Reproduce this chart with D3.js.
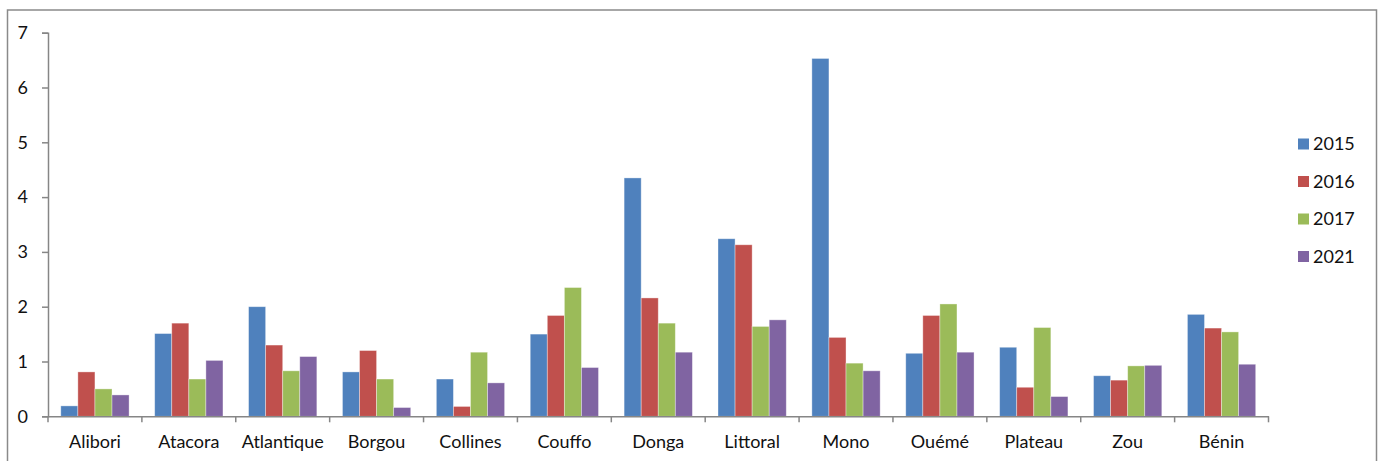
<!DOCTYPE html>
<html>
<head>
<meta charset="utf-8">
<script src="https://cdn.jsdelivr.net/npm/d3@7"></script>
<style>
  body { margin: 0; background: #fff; }
  text { font-family: Lato, "Open Sans", sans-serif; fill: #111; }
</style>
</head>
<body>
<div id="chart"></div>
<script>
var svgWidth = 1383;
var svgHeight = 461;

// data
var regions = ["Alibori", "Atacora", "Atlantique", "Borgou", "Collines", "Couffo",
  "Donga", "Littoral", "Mono", "Ouémé", "Plateau", "Zou", "Bénin"];
var years = ["2015", "2016", "2017", "2021"];
var values2015 = [0.19, 1.51, 2.00, 0.81, 0.68, 1.50, 4.35, 3.24, 6.53, 1.15, 1.26, 0.74, 1.86];
var values2016 = [0.81, 1.70, 1.30, 1.20, 0.18, 1.84, 2.16, 3.13, 1.44, 1.84, 0.53, 0.66, 1.61];
var values2017 = [0.50, 0.68, 0.83, 0.68, 1.17, 2.35, 1.70, 1.64, 0.97, 2.05, 1.62, 0.92, 1.54];
var values2021 = [0.39, 1.02, 1.09, 0.16, 0.61, 0.89, 1.17, 1.76, 0.83, 1.17, 0.36, 0.93, 0.95];
var yTicks = [0, 1, 2, 3, 4, 5, 6, 7];
var colors = ["#4F81BD", "#C0504D", "#9BBB59", "#8064A2"];

var seriesValues = [values2015, values2016, values2017, values2021];

var margin = { top: 33, left: 48, right: 115, bottom: 45 };
var plotLeft = 48, plotRight = 1268.5, plotTop = 32.7, plotBottom = 416.3;

var svg = d3.select("#chart")
  .append("svg")
  .attr("width", svgWidth)
  .attr("height", svgHeight);

// outer frame of the chart area
svg.append("rect")
  .attr("x", 7.5)
  .attr("y", 10)
  .attr("width", 1369)
  .attr("height", 470)
  .attr("fill", "none")
  .attr("stroke", "#8a8a8a")
  .attr("stroke-width", 1.5);

var x0 = d3.scaleBand()
  .domain(regions)
  .range([plotLeft, plotRight])
  .paddingInner(0)
  .paddingOuter(0);

var x1 = d3.scaleBand()
  .domain(years)
  .range([0, x0.bandwidth()])
  .paddingOuter(0.75)
  .paddingInner(0);

var y = d3.scaleLinear()
  .domain([0, 7])
  .range([plotBottom, plotTop]);

// bars
var groups = svg.selectAll("g.region")
  .data(regions)
  .enter()
  .append("g")
  .attr("class", "region")
  .attr("transform", d => `translate(${x0(d)},0)`);

groups.selectAll("rect")
  .data((d, i) => years.map((yr, j) => ({ year: yr, value: seriesValues[j][i], k: j })))
  .enter()
  .append("rect")
  .attr("x", d => x1(d.year))
  .attr("y", d => y(d.value))
  .attr("width", x1.bandwidth())
  .attr("height", d => plotBottom - y(d.value))
  .attr("fill", d => colors[d.k])
  .attr("stroke", "rgba(255,255,255,0.45)")
  .attr("stroke-width", 0.8);

// y axis
var leftAxis = d3.axisLeft(y)
  .tickValues(yTicks)
  .tickSize(6)
  .tickPadding(14)
  .tickFormat(d3.format("d"));

var yAxis = svg.append("g")
  .attr("transform", `translate(${plotLeft},0)`)
  .call(leftAxis);
yAxis.select(".domain").attr("stroke", "#868686").attr("stroke-width", 1.5);
yAxis.selectAll(".tick line").attr("stroke", "#868686").attr("stroke-width", 1.5);
yAxis.selectAll(".tick text").attr("font-size", "18px").attr("font-family", "Lato");

// x axis: ticks at category boundaries
var bottomAxis = d3.axisBottom(x0).tickSize(0).tickPadding(19);
var xAxis = svg.append("g")
  .attr("transform", `translate(0,${plotBottom})`)
  .call(bottomAxis);
xAxis.select(".domain").attr("stroke", "#868686").attr("stroke-width", 1.5);
xAxis.selectAll(".tick text").attr("font-size", "18px").attr("font-family", "Lato");

var boundaries = regions.map(r => x0(r)).concat([plotRight]);
svg.append("g").selectAll("line")
  .data(boundaries)
  .enter()
  .append("line")
  .attr("x1", d => d)
  .attr("x2", d => d)
  .attr("y1", plotBottom)
  .attr("y2", plotBottom + 6)
  .attr("stroke", "#868686")
  .attr("stroke-width", 1.5);

// legend
var legend = svg.append("g").attr("transform", "translate(1298,144)");
var items = legend.selectAll("g")
  .data(years)
  .enter()
  .append("g")
  .attr("transform", (d, i) => `translate(0,${i * 37.5})`);
items.append("rect")
  .attr("x", 0)
  .attr("y", -5.5)
  .attr("width", 11)
  .attr("height", 11)
  .attr("fill", (d, i) => colors[i]);
items.append("text")
  .attr("x", 15)
  .attr("y", 0)
  .attr("dy", "0.35em")
  .attr("font-size", "18px")
  .text(d => d);
</script>
</body>
</html>
